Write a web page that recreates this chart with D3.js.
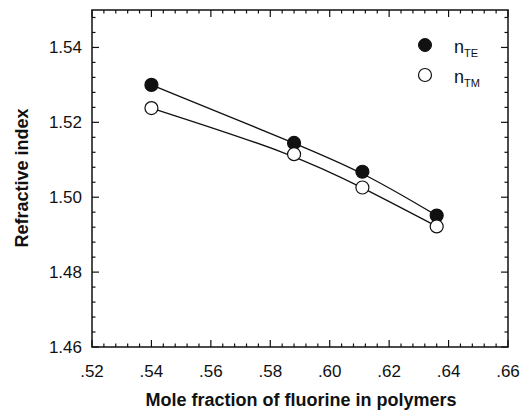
<!DOCTYPE html>
<meta charset="utf-8">
<style>
body{ margin:0; background:#fff; }
text{ font-family:"Liberation Sans", Arial, sans-serif; fill:#111; }
.tick-label{ font-size:17px; }
.title{ font-size:18px; font-weight:bold; }
.frame{ fill:none; stroke:#111; stroke-width:1.5px; }
.tk{ stroke:#111; stroke-width:1.2px; }
.curve{ fill:none; stroke:#111; stroke-width:1.3px; }
</style>
<body>
<script src="https://cdnjs.cloudflare.com/ajax/libs/d3/7.8.5/d3.min.js"></script>
<script>
// data
var moleFraction = [0.540, 0.588, 0.611, 0.636];
var nTE = [1.5300, 1.5145, 1.5068, 1.4951];
var nTM = [1.5238, 1.5115, 1.5026, 1.4922];
var xTicks = [0.52, 0.54, 0.56, 0.58, 0.60, 0.62, 0.64, 0.66];
var yTicks = [1.46, 1.48, 1.50, 1.52, 1.54];

var W = 530, H = 412;
var pL = 92, pR = 508, pT = 10, pB = 347;

var svg = d3.select("body").append("svg").attr("width", W).attr("height", H);

var x = d3.scaleLinear().domain([0.52, 0.66]).range([pL, pR]);
var y = d3.scaleLinear().domain([1.46, 1.55]).range([pB, pT]);

svg.append("rect").attr("class","frame")
    .attr("x", pL).attr("y", pT).attr("width", pR-pL).attr("height", pB-pT);

// minor ticks every .004 on both axes
var xMinor = d3.range(0.52, 0.6601, 0.004);
var yMinor = d3.range(1.46, 1.5501, 0.004);

function isMajor(v, step){ return Math.abs(v/step - Math.round(v/step)) < 1e-6; }

xMinor.forEach(function(v){
    var len = isMajor(v, 0.02) ? 7 : 3.5;
    svg.append("line").attr("class","tk").attr("x1", x(v)).attr("x2", x(v)).attr("y1", pB).attr("y2", pB-len);
    svg.append("line").attr("class","tk").attr("x1", x(v)).attr("x2", x(v)).attr("y1", pT).attr("y2", pT+len);
});
yMinor.forEach(function(v){
    var len = isMajor(v, 0.02) ? 7 : 3.5;
    svg.append("line").attr("class","tk").attr("y1", y(v)).attr("y2", y(v)).attr("x1", pL).attr("x2", pL+len);
    svg.append("line").attr("class","tk").attr("y1", y(v)).attr("y2", y(v)).attr("x1", pR).attr("x2", pR-len);
});

svg.selectAll(".xl").data(xTicks).enter().append("text")
    .attr("class","tick-label")
    .attr("x", d=>x(d)).attr("y", 377)
    .attr("text-anchor","middle")
    .text(d=>d3.format(".2f")(d).replace(/^0/,""));

svg.selectAll(".yl").data(yTicks).enter().append("text")
    .attr("class","tick-label")
    .attr("x", 82).attr("y", d=>y(d)+6)
    .attr("text-anchor","end")
    .text(d=>d3.format(".2f")(d));

svg.append("text").attr("class","title")
    .attr("x", 301).attr("y", 406)
    .attr("text-anchor","middle")
    .text("Mole fraction of fluorine in polymers");

svg.append("text").attr("class","title")
    .attr("transform","translate(28,178) rotate(-90)")
    .attr("text-anchor","middle")
    .text("Refractive index");

var line = d3.line().curve(d3.curveBasis)
    .x((d,i)=>x(moleFraction[i])).y(d=>y(d));

svg.append("path").attr("class","curve").attr("d", line(nTE));
svg.append("path").attr("class","curve").attr("d", line(nTM));

svg.selectAll(".te").data(nTE).enter().append("circle")
    .attr("cx",(d,i)=>x(moleFraction[i])).attr("cy", d=>y(d)).attr("r", 6.5)
    .attr("fill","#111").attr("stroke","#111").attr("stroke-width",1.2);
svg.selectAll(".tm").data(nTM).enter().append("circle")
    .attr("cx",(d,i)=>x(moleFraction[i])).attr("cy", d=>y(d)).attr("r", 6.5)
    .attr("fill","#fff").attr("stroke","#111").attr("stroke-width",1.2);

// legend
var leg = svg.append("g");
leg.append("circle").attr("cx",425).attr("cy",45).attr("r",6.5).attr("fill","#111").attr("stroke","#111");
leg.append("circle").attr("cx",425).attr("cy",75).attr("r",6.5).attr("fill","#fff").attr("stroke","#111").attr("stroke-width",1.2);
var t1 = leg.append("text").attr("x",454).attr("y",53).style("font-size","18px");
t1.append("tspan").text("n");
t1.append("tspan").attr("dy",4).style("font-size","11px").text("TE");
var t2 = leg.append("text").attr("x",454).attr("y",83).style("font-size","18px");
t2.append("tspan").text("n");
t2.append("tspan").attr("dy",4).style("font-size","11px").text("TM");
</script>
</body>
